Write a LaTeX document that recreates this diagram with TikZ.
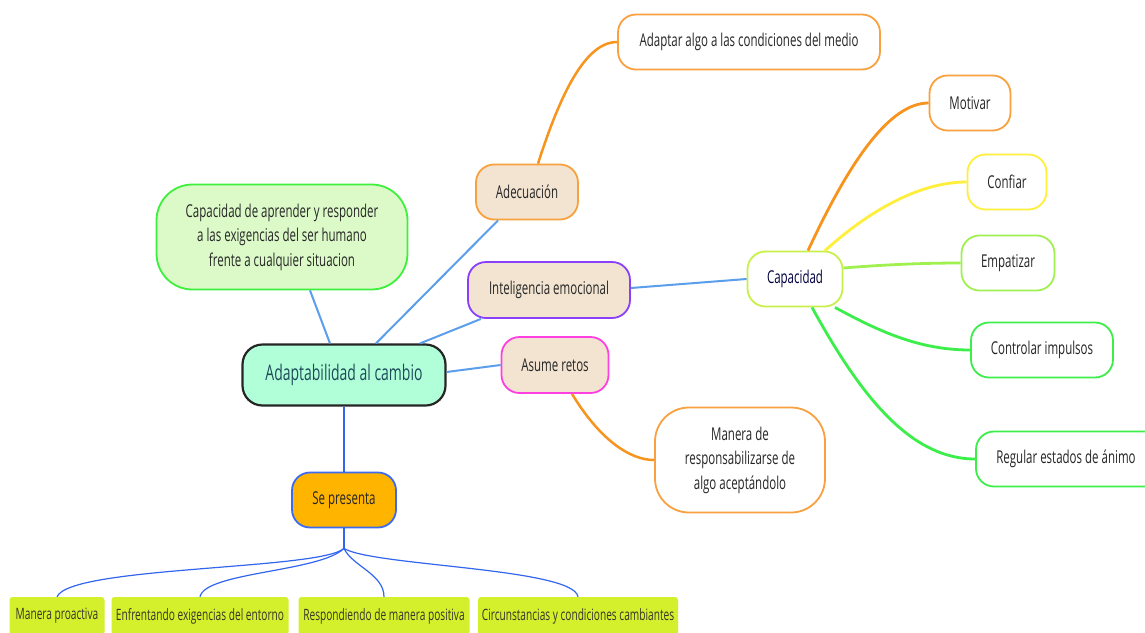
\documentclass[tikz,border=0pt]{standalone}
\usepackage{fontspec}
\setmainfont[FakeStretch=0.65]{Open Sans}
\usetikzlibrary{calc}
\definecolor{beige}{HTML}{F2E4D0}
\definecolor{orng}{HTML}{F9A03F}
\definecolor{orngline}{HTML}{F7941D}
\definecolor{mint}{HTML}{B0FFD8}
\definecolor{lgfill}{HTML}{DCFAC8}
\definecolor{lgborder}{HTML}{3CF03C}
\definecolor{purp}{HTML}{8A3FFC}
\definecolor{magen}{HTML}{FF40E0}
\definecolor{sefill}{HTML}{FFB400}
\definecolor{sebord}{HTML}{3D6BF0}
\definecolor{capbord}{HTML}{C8F048}
\definecolor{yel}{HTML}{FFEF3A}
\definecolor{empg}{HTML}{A0F050}
\definecolor{grn}{HTML}{3CEE4A}
\definecolor{lblue}{HTML}{5A9EEC}
\definecolor{dblue}{HTML}{3366EE}
\definecolor{botfill}{HTML}{D4F02C}
\definecolor{txt}{HTML}{262626}
\definecolor{titletxt}{HTML}{1E4A5A}
\begin{document}
\begin{tikzpicture}[x=1pt,y=-1pt,
  box/.style={draw,rounded corners=18pt,line width=1.8pt,align=center,inner sep=0pt,text=txt,font=\fontsize{17.7}{24.5}\selectfont},
  botbox/.style={fill=botfill,rounded corners=3pt,inner sep=0pt,minimum height=38pt,text=black!80!olive,font=\fontsize{15.6}{18}\selectfont},
  conn/.style={lblue,line width=2pt},
  oconn/.style={orngline,line width=2.5pt},
  fan/.style={dblue,line width=1.2pt}]
\useasboundingbox[fill=white] (0,0) rectangle (1145,632);

\node[box,fill=mint,draw=black!85,line width=2.2pt,minimum width=203pt,minimum height=61pt,rounded corners=20pt,text=titletxt,font=\fontsize{21.5}{24}\selectfont] (main) at (344,375) {Adaptabilidad al cambio};
\node[box,fill=lgfill,draw=lgborder,minimum width=251pt,minimum height=105pt,rounded corners=36pt] (cap) at (282,237) {Capacidad de aprender y responder\\a las exigencias del ser humano\\frente a cualquier situacion};
\node[box,fill=beige,draw=orng,minimum width=102pt,minimum height=55pt] (adec) at (527,192) {Adecuación};
\node[box,fill=white,draw=orng,minimum width=262pt,minimum height=55pt] (adap) at (749,42) {Adaptar algo a las condiciones del medio};
\node[box,fill=beige,draw=purp,minimum width=162pt,minimum height=56pt] (intel) at (549,290) {Inteligencia emocional};
\node[box,fill=beige,draw=magen,minimum width=107pt,minimum height=56pt] (asume) at (555,365) {Asume retos};
\node[box,fill=white,draw=orng,minimum width=170pt,minimum height=105pt,rounded corners=34pt] (manera) at (740,460) {Manera de\\responsabilizarse de\\algo aceptándolo};
\node[box,fill=sefill,draw=sebord,minimum width=104pt,minimum height=55pt] (sep) at (344,500) {Se presenta};
\node[box,fill=white,draw=capbord,minimum width=95pt,minimum height=55pt,text=black!75!blue] (capac) at (795,279) {Capacidad};
\node[box,fill=white,draw=orng,minimum width=81pt,minimum height=55pt] (motiv) at (970,103) {Motivar};
\node[box,fill=white,draw=yel,minimum width=79pt,minimum height=55pt] (conf) at (1007,182) {Confiar};
\node[box,fill=white,draw=empg,minimum width=93pt,minimum height=55pt] (empat) at (1008,263) {Empatizar};
\node[box,fill=white,draw=grn,minimum width=142pt,minimum height=55pt] (contr) at (1042,350) {Controlar impulsos};
\node[box,fill=white,draw=grn,minimum width=190pt,minimum height=55pt] (regul) at (1071,459) {};
\node[text=txt,font=\fontsize{17.7}{20}\selectfont] (regultxt) at (1066,459) {Regular estados de ánimo};

\node[botbox,minimum width=95pt] (b1) at (57,616) {Manera proactiva};
\node[botbox,minimum width=177pt] (b2) at (200,616) {Enfrentando exigencias del entorno};
\node[botbox,minimum width=171pt] (b3) at (384,616) {Respondiendo de manera positiva};
\node[botbox,minimum width=200pt] (b4) at (578,616) {Circunstancias y condiciones cambiantes};

% blue connectors
\draw[conn] ($(cap.south)+(28,0)$) -- ($(main.north)+(-14,0)$);
\draw[conn] ($(main.north)+(32,0)$) -- ($(adec.south)+(-29,0)$);
\draw[conn] ($(main.north)+(76,0)$) -- ($(intel.south)+(-68,0)$);
\draw[conn] ($(main.east)+(0,-3)$) -- (asume.west);
\draw[conn] ($(intel.east)+(0,-2)$) -- (capac.west);
\draw[dblue,line width=1.8pt] (main.south) -- (sep.north);

% orange curves
\draw[oconn] ($(adec.north)+(11,0)$) .. controls (560,95) and (585,42) .. (adap.west);
\draw[oconn] ($(asume.south)+(17,0)$) .. controls (600,440) and (630,460) .. (manera.west);

% capacidad branches
\draw[orngline,line width=2.8pt] ($(capac.north)+(13,0)$) .. controls (850,160) and (890,103) .. (motiv.west);
\draw[yel,line width=2.8pt] ($(capac.north)+(30,0)$) .. controls (870,210) and (920,182) .. (conf.west);
\draw[empg,line width=2.8pt] ($(capac.east)+(0,-11)$) .. controls (880,265) and (920,263) .. (empat.west);
\draw[grn,line width=2.8pt] ($(capac.south)+(40,0)$) .. controls (880,332) and (920,350) .. (contr.west);
\draw[grn,line width=2.8pt] ($(capac.south)+(17,0)$) .. controls (860,395) and (910,459) .. (regul.west);

% fan from Se presenta
\coordinate (fj) at ($(sep.south)+(0,20)$);
\draw[fan] (sep.south) -- (fj);
\draw[fan] (fj) .. controls (320,570) and (70,566) .. (b1.north);
\draw[fan] (fj) .. controls (320,572) and (205,572) .. (b2.north);
\draw[fan] (fj) .. controls (352,566) and (384,574) .. (b3.north);
\draw[fan] (fj) .. controls (372,566) and (574,568) .. (b4.north);
\end{tikzpicture}
\end{document}
